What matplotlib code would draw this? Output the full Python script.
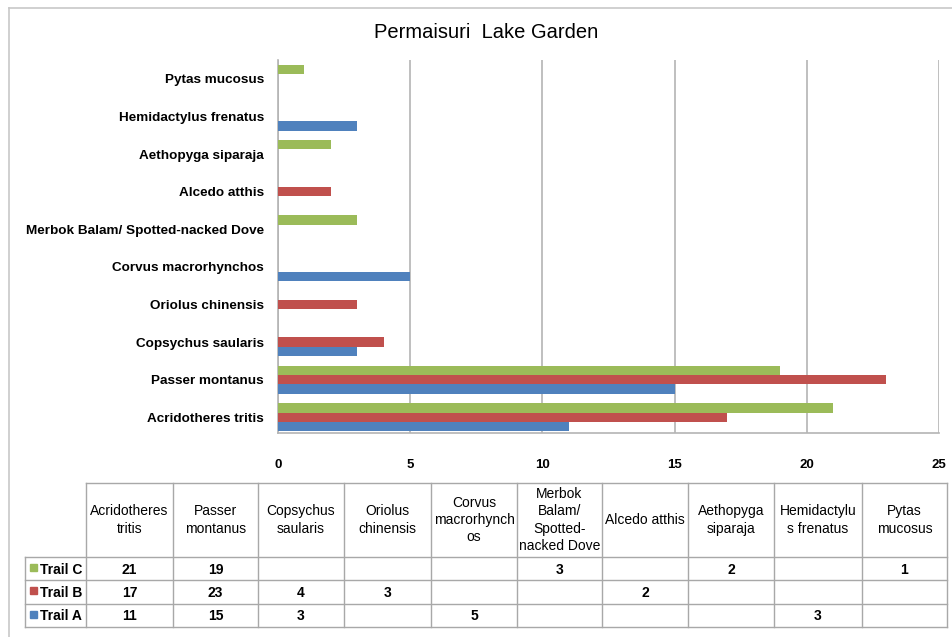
import numpy as np
import matplotlib
matplotlib.use('Agg')
import matplotlib.pyplot as plt

plt.rcParams['font.family'] = ['Liberation Sans', 'DejaVu Sans']

# data
categories = ['Acridotheres tritis', 'Passer montanus', 'Copsychus saularis',
              'Oriolus chinensis', 'Corvus macrorhynchos',
              'Merbok Balam/ Spotted-nacked Dove', 'Alcedo atthis',
              'Aethopyga siparaja', 'Hemidactylus frenatus', 'Pytas mucosus']
table_headers = ['Acridotheres\ntritis', 'Passer\nmontanus', 'Copsychus\nsaularis',
                 'Oriolus\nchinensis', 'Corvus\nmacrorhynch\nos',
                 'Merbok\nBalam/\nSpotted-\nnacked Dove', 'Alcedo atthis',
                 'Aethopyga\nsiparaja', 'Hemidactylu\ns frenatus', 'Pytas\nmucosus']
trail_a = [11, 15, 3, 0, 5, 0, 0, 0, 3, 0]
trail_b = [17, 23, 4, 3, 0, 0, 2, 0, 0, 0]
trail_c = [21, 19, 0, 0, 0, 3, 0, 2, 0, 1]
series_names = ['Trail C', 'Trail B', 'Trail A']
xticks = [0, 5, 10, 15, 20, 25]

blue = '#4F81BD'
red = '#C0504D'
green = '#9BBB59'
grid_col = '#b4b4b4'

W, H = 953, 637
fig = plt.figure(figsize=(W / 100, H / 100), dpi=100)

# full-figure overlay in pixel coords for frame + table
ov = fig.add_axes([0, 0, 1, 1])
ov.set_xlim(0, W)
ov.set_ylim(H, 0)
ov.axis('off')

# outer frame (left and top edges visible)
ov.plot([9, 9], [8, H + 5], color='#c8c8c8', lw=1.2)
ov.plot([9, W + 5], [8, 8], color='#c8c8c8', lw=1.2)

ov.text(486, 32, 'Permaisuri  Lake Garden', ha='center', va='center', fontsize=14.5)

# bar chart
ax = fig.add_axes([278 / W, 1 - 433 / H, 661 / W, 373 / H])
y = np.arange(len(categories))
h = 0.25
ax.barh(y - h, trail_a, height=h, color=blue, zorder=3)
ax.barh(y, trail_b, height=h, color=red, zorder=3)
ax.barh(y + h, trail_c, height=h, color=green, zorder=3)

ax.set_xlim(0, 25)
ax.set_ylim(-0.42, 9.5)
ax.set_xticks(xticks)
ax.set_xticklabels([str(t) for t in xticks], fontweight='bold', fontsize=9.5)
ax.set_yticks(y)
ax.set_yticklabels(categories, fontweight='bold', fontsize=9.7)
ax.tick_params(length=0)
ax.tick_params(axis='x', pad=19)
ax.tick_params(axis='y', pad=10)
ax.xaxis.grid(True, color=grid_col, lw=1.2, zorder=0)
for s in ['top', 'right']:
    ax.spines[s].set_visible(False)
for s in ['left', 'bottom']:
    ax.spines[s].set_color(grid_col)
    ax.spines[s].set_linewidth(1.2)
ax.set_facecolor('none')

# data table
col_edges = [86, 173, 258, 344, 431, 517, 602, 688, 774, 862, 947]
row_edges = [483, 557, 580, 604, 627]
lab_left = 25
tcol = '#a8a8a8'

ov.plot([col_edges[0], col_edges[-1]], [row_edges[0], row_edges[0]], color=tcol, lw=1)
for r in row_edges[1:]:
    ov.plot([lab_left, col_edges[-1]], [r, r], color=tcol, lw=1)
for c in col_edges:
    ov.plot([c, c], [row_edges[0], row_edges[-1]], color=tcol, lw=1)
ov.plot([lab_left, lab_left], [row_edges[1], row_edges[-1]], color=tcol, lw=1)

for i, lab in enumerate(table_headers):
    cx = (col_edges[i] + col_edges[i + 1]) / 2
    ov.text(cx, 520, lab, ha='center', va='center', fontsize=10, linespacing=1.3)

rows = [(series_names[0], trail_c, green), (series_names[1], trail_b, red),
        (series_names[2], trail_a, blue)]
for j, (name, vals, col) in enumerate(rows):
    cy = (row_edges[j + 1] + row_edges[j + 2]) / 2
    ov.add_patch(plt.Rectangle((30, cy - 5), 7, 7, color=col))
    ov.text(40, cy + 1, name, ha='left', va='center', fontsize=10, fontweight='bold')
    for i, v in enumerate(vals):
        if v:
            cx = (col_edges[i] + col_edges[i + 1]) / 2
            ov.text(cx, cy + 1, str(v), ha='center', va='center', fontsize=10,
                    fontweight='bold')

fig.savefig('out.png', dpi=100)
